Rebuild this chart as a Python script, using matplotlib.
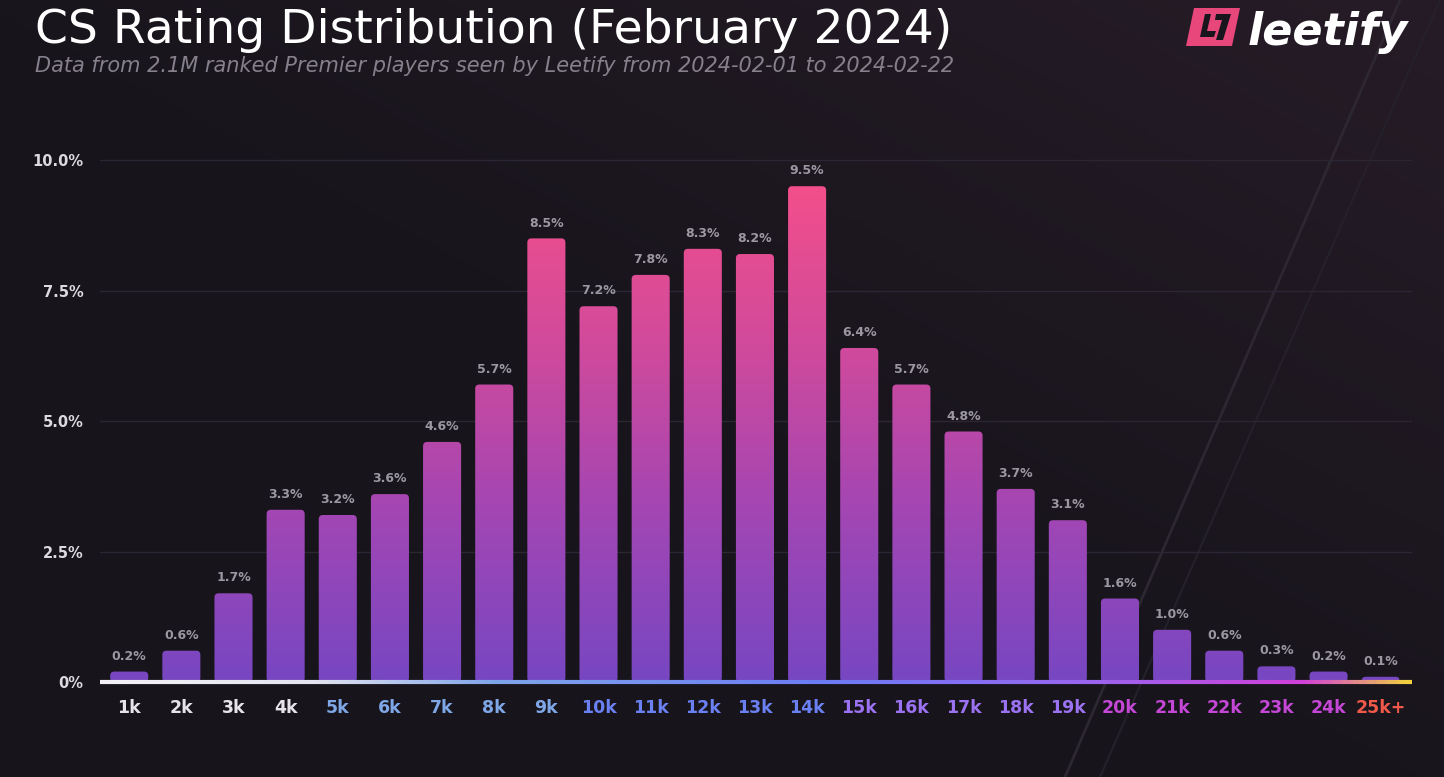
import matplotlib.pyplot as plt
import numpy as np
from matplotlib.colors import LinearSegmentedColormap
from matplotlib.patches import FancyBboxPatch, Polygon
from matplotlib.collections import LineCollection

# data
ratings = ["1k", "2k", "3k", "4k", "5k", "6k", "7k", "8k", "9k", "10k", "11k", "12k",
           "13k", "14k", "15k", "16k", "17k", "18k", "19k", "20k", "21k", "22k", "23k", "24k", "25k+"]
share = [0.2, 0.6, 1.7, 3.3, 3.2, 3.6, 4.6, 5.7, 8.5, 7.2, 7.8, 8.3,
         8.2, 9.5, 6.4, 5.7, 4.8, 3.7, 3.1, 1.6, 1.0, 0.6, 0.3, 0.2, 0.1]
tier_colors = ["#e6e4ea"] * 4 + ["#7fa6e6"] * 5 + ["#6b80f2"] * 5 + ["#9b72f2"] * 5 + ["#c447d6"] * 5 + ["#f0584a"]
yticks = [0, 2.5, 5, 7.5, 10]
ytick_labels = ["0%", "2.5%", "5.0%", "7.5%", "10.0%"]

bg = "#19151d"
W, H = 1444, 777
fig = plt.figure(figsize=(14.44, 7.77), dpi=100, facecolor=bg)

# background with a faint purple tint toward the top right and diagonal streaks
bgax = fig.add_axes([0, 0, 1, 1], zorder=-10)
gx, gy = np.meshgrid(np.linspace(0, 1, 300), np.linspace(0, 1, 200))
tint = np.clip(0.6 * gx + 0.6 * gy - 0.5, 0, 1)
base = np.array([0x17, 0x14, 0x1b]) / 255
hi = np.array([0x2c, 0x1f, 0x2c]) / 255
img = base[None, None, :] * (1 - tint[..., None]) + hi[None, None, :] * tint[..., None]
bgax.imshow(img, extent=[0, 1, 0, 1], origin="lower", aspect="auto")
streaks = [[(1400 / W, 1), (1065 / W, 0)], [(1440 / W, 1), (1100 / W, 0)]]
bgax.add_collection(LineCollection(streaks, colors=["#2c2731", "#25212b"], linewidths=[2, 1.5]))
bgax.set_xlim(0, 1)
bgax.set_ylim(0, 1)
bgax.axis("off")

ax = fig.add_axes([100 / W, 95 / H, 1312 / W, 548 / H])
ax.set_facecolor("none")
x = np.arange(len(ratings))
xlim = (-0.56, len(ratings) - 1 + 0.6)

for y in yticks[1:]:
    ax.axhline(y, color="#2b2633", lw=1, zorder=0)

cmap = LinearSegmentedColormap.from_list("bars", ["#7747c2", "#a246b4", "#d04a9c", "#f44f8a"])
grad = np.linspace(0, 1, 256).reshape(-1, 1)
bars = ax.bar(x, share, width=0.73, color="none", edgecolor="none")
for b, v in zip(bars, share):
    patch = FancyBboxPatch((b.get_x(), 0), b.get_width(), v,
                           boxstyle="round,pad=0,rounding_size=0.08",
                           facecolor="none", edgecolor="none")
    ax.add_patch(patch)
    im = ax.imshow(grad, extent=[xlim[0], xlim[1], 0, 9.6], origin="lower",
                   cmap=cmap, aspect="auto", zorder=2)
    im.set_clip_path(patch)
    ax.text(b.get_x() + b.get_width() / 2, v + 0.17, f"{v:.1f}%", ha="center", va="bottom",
            color="#9c98a2", fontsize=9, fontweight="bold", family="DejaVu Sans")

ax.set_xlim(*xlim)
ax.set_ylim(0, 10.5)

# baseline with colour gradient
px = np.linspace(xlim[0], xlim[1], 400)
pts = np.array([px, np.zeros_like(px)]).T.reshape(-1, 1, 2)
segs = np.concatenate([pts[:-1], pts[1:]], axis=1)
line_cmap = LinearSegmentedColormap.from_list("base", [(0, "#f2f2f6"), (0.16, "#e4e4f0"), (0.3, "#7ea4ea"),
                                                       (0.55, "#6b7cf4"), (0.75, "#9866f0"),
                                                       (0.92, "#d040d8"), (1, "#f2d040")])
lc = LineCollection(segs, cmap=line_cmap, linewidths=3, zorder=4, clip_on=False)
lc.set_array(np.linspace(0, 1, len(segs)))
ax.add_collection(lc)

ax.set_xticks(x)
ax.set_xticklabels(ratings, fontsize=12.5, fontweight="bold", family="DejaVu Sans")
for lbl, c in zip(ax.get_xticklabels(), tier_colors):
    lbl.set_color(c)
ax.set_yticks(yticks)
ax.set_yticklabels(ytick_labels, fontsize=10.5, fontweight="bold", color="#dcdae0", family="DejaVu Sans")
ax.tick_params(length=0, axis="x", pad=12)
ax.tick_params(length=0, axis="y", pad=12)
for s in ax.spines.values():
    s.set_visible(False)

fig.text(35 / W, 1 - 43 / H, "CS Rating Distribution (February 2024)", color="white",
         fontsize=34, family="DejaVu Sans", ha="left", va="baseline")
fig.text(35 / W, 1 - 72 / H, "Data from 2.1M ranked Premier players seen by Leetify from 2024-02-01 to 2024-02-22",
         color="#85808c", fontsize=15, style="italic", family="DejaVu Sans", ha="left", va="baseline")

# leetify logo: pink slanted block plus wordmark
logo = Polygon([(1186 / W, 1 - 46 / H), (1194 / W, 1 - 8 / H), (1240 / W, 1 - 8 / H),
                (1232 / W, 1 - 46 / H)], closed=True, transform=fig.transFigure,
               facecolor="#e8477c", edgecolor="none")
fig.patches.append(logo)
cut1 = Polygon([(1200 / W, 1 - 37 / H), (1205 / W, 1 - 14 / H), (1211 / W, 1 - 14 / H),
                (1207 / W, 1 - 31 / H), (1216 / W, 1 - 31 / H), (1214 / W, 1 - 37 / H)],
               closed=True, transform=fig.transFigure, facecolor=bg, edgecolor="none")
cut2 = Polygon([(1216 / W, 1 - 14 / H), (1231 / W, 1 - 14 / H), (1223 / W, 1 - 40 / H),
                (1216 / W, 1 - 40 / H), (1222 / W, 1 - 20 / H), (1215 / W, 1 - 20 / H)],
               closed=True, transform=fig.transFigure, facecolor=bg, edgecolor="none")
fig.patches.extend([cut1, cut2])
fig.text(1248 / W, 1 - 45 / H, "leetify", color="white", fontsize=32, fontweight="bold",
         style="italic", family="DejaVu Sans", ha="left", va="baseline")

plt.savefig("out.png", dpi=100, facecolor=bg)
